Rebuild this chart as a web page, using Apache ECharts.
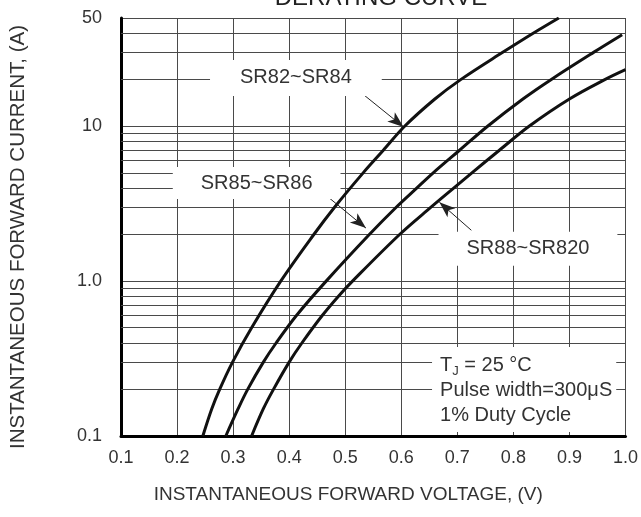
<!DOCTYPE html>
<html>
<head>
<meta charset="utf-8">
<script src="https://cdn.jsdelivr.net/npm/echarts@6/dist/echarts.min.js"></script>
<style>
html,body{margin:0;padding:0;background:#fff;}
#c{width:641px;height:517px;}
</style>
</head>
<body>
<div id="c"></div>
<script>
// ---- data ----
const chartTitle = 'DERATING CURVE';
const xAxisTitle = 'INSTANTANEOUS FORWARD VOLTAGE, (V)';
const yAxisTitle = 'INSTANTANEOUS FORWARD CURRENT, (A)';
const xTickLabels = ['0.1','0.2','0.3','0.4','0.5','0.6','0.7','0.8','0.9','1.0'];
const yTickValues = [0.1, 1, 10, 50];
const yTickLabels = ['0.1', '1.0', '10', '50'];
const yMinorGrid = [0.2,0.3,0.4,0.5,0.6,0.7,0.8,0.9,2,3,4,5,6,7,8,9,20,30,40];

const seriesNames = ['SR82~SR84', 'SR85~SR86', 'SR88~SR820'];
const sr82V = [0.246,0.262,0.276,0.299,0.333,0.385,0.444,0.481,0.532,0.568,0.606,0.660,0.706,0.781,0.836,0.881];
const sr82I = [0.1,  0.15, 0.2,  0.3,  0.5,  1.0,  2,    3,    5,    7,    10,   15,   20,   30,   40,   50];
const sr85V = [0.287,0.309,0.326,0.354,0.377,0.413,0.466,0.543,0.591,0.628,0.657,0.704,0.754,0.817,0.867,0.943,0.994];
const sr85I = [0.1,  0.15, 0.2,  0.3,  0.4,  0.6,  1.0,  2,    3,    4,    5,    7,    10,   15,   20,   30,   39];
const sr88V = [0.333,0.354,0.372,0.400,0.423,0.459,0.488,0.513,0.597,0.653,0.694,0.726,0.775,0.828,0.900,0.963,1.000];
const sr88I = [0.1,  0.15, 0.2,  0.3,  0.4,  0.6,  0.8,  1.0,  2,    3,    4,    5,    7,    10,   15,   20,   23.2];

// annotation anchors (in data units)
const labelV = [0.412, 0.342, 0.826];
const labelI = [20.5, 4.3, 1.62];
const arrowFromV = [0.529, 0.459, 0.725];
const arrowFromI = [16.4, 3.75, 2.13];
const arrowToV = [0.604, 0.537, 0.668];
const arrowToI = [9.9, 2.2, 3.23];
const noteSub = ['T', 'J', ' = 25 °C'];
const noteLines = ['Pulse width=300μS', '1% Duty Cycle'];
const noteV = 0.654, noteI = 0.2;

// ---- chart ----
const SANS = "'Liberation Sans',Arial,sans-serif";
const GRID = '#4a4a4a';
const chart = echarts.init(document.getElementById('c'), null, {renderer: 'canvas'});

function zip(a, b) { return a.map((v, i) => [v, b[i]]); }
const curves = [zip(sr82V, sr82I), zip(sr85V, sr85I), zip(sr88V, sr88I)];

const boxPads = [[8,30,8,30],[6,28,6,28],[7,28,7,28]];

const option = {
  animation: false,
  backgroundColor: '#fff',
  textStyle: {fontFamily: SANS},
  graphic: [{
    type: 'text', x: 381, y: -14, z: 10,
    style: {text: chartTitle, font: '24px ' + SANS, fill: '#222', align: 'center', verticalAlign: 'top'}
  }],
  grid: {left: 120, right: 7, top: 18, bottom: 81, show: false},
  xAxis: {
    type: 'value', min: 0.1, max: 1.0, interval: 0.1,
    axisLine: {show: true, onZero: false, lineStyle: {color: '#000', width: 3}},
    axisTick: {show: false},
    axisLabel: {
      margin: 13, fontFamily: SANS, fontSize: 18, color: '#333',
      formatter: v => xTickLabels[Math.round((v - 0.1) * 10)]
    },
    splitLine: {show: true, lineStyle: {color: GRID, width: 1}},
    name: xAxisTitle, nameLocation: 'middle', nameGap: 49,
    nameTextStyle: {fontFamily: SANS, fontSize: 19, color: '#333', padding: [0, 50, 0, 0]}
  },
  yAxis: {
    type: 'log', logBase: 10, min: 0.1, max: 50,
    axisLine: {show: true, onZero: false, lineStyle: {color: '#000', width: 3}},
    axisTick: {show: false},
    axisLabel: {
      margin: 19, fontFamily: SANS, fontSize: 18, color: '#333',
      formatter: v => {
        let best = 0, d = Infinity;
        yTickValues.forEach((t, i) => { const dd = Math.abs(Math.log10(t) - Math.log10(v)); if (dd < d) { d = dd; best = i; } });
        return yTickLabels[best];
      }
    },
    splitLine: {show: true, lineStyle: {color: GRID, width: 1}},
    name: yAxisTitle, nameLocation: 'middle', nameGap: 92,
    nameTextStyle: {fontFamily: SANS, fontSize: 20.5, color: '#333', padding: [0, 20, 0, 0]}
  },
  series: [
    {
      type: 'line', data: [], z: 1, silent: true,
      markLine: {
        silent: true, symbol: 'none', label: {show: false},
        lineStyle: {color: GRID, width: 1, type: 'solid'},
        data: yMinorGrid.map(v => ({yAxis: v}))
      }
    },
    {
      type: 'scatter', data: [], z: 3, silent: true,
      markPoint: {
        symbol: 'rect', symbolSize: 1, itemStyle: {color: 'rgba(0,0,0,0)'},
        data: seriesNames.map((n, i) => ({
          coord: [labelV[i], labelI[i]],
          label: {
            show: true, position: 'inside', formatter: n,
            fontFamily: SANS, fontSize: 20, color: '#333',
            backgroundColor: '#fff', padding: boxPads[i]
          }
        })).concat([{
          coord: [noteV, noteI],
          label: {
            show: true, position: 'right', distance: 0, align: 'left',
            backgroundColor: '#fff', padding: [6, 4, 4, 8],
            formatter: '{t|' + noteSub[0] + '}{s|' + noteSub[1] + '}{t|' + noteSub[2] + '}\n{t|' + noteLines[0] + '}\n{t|' + noteLines[1] + '}',
            rich: {
              t: {fontFamily: SANS, fontSize: 20, lineHeight: 25, color: '#333'},
              s: {fontFamily: SANS, fontSize: 13, lineHeight: 12, verticalAlign: 'bottom', color: '#333'}
            }
          }
        }])
      },
      markLine: {
        silent: true, symbol: ['none', 'arrow'], symbolSize: [9, 16],
        label: {show: false},
        lineStyle: {color: '#222', width: 1, type: 'solid'},
        data: arrowFromV.map((v, i) => [{coord: [v, arrowFromI[i]]}, {coord: [arrowToV[i], arrowToI[i]]}])
      }
    }
  ].concat(curves.map((d, i) => ({
    type: 'line', name: seriesNames[i], data: d, z: 5,
    showSymbol: false, symbol: 'none', smooth: 0.35,
    lineStyle: {color: '#111', width: 3}
  })))
};
chart.setOption(option);
</script>
</body>
</html>
